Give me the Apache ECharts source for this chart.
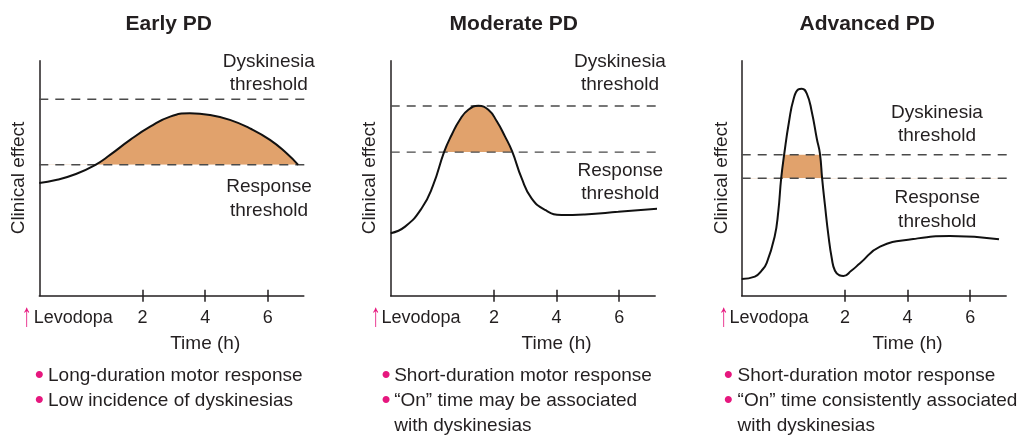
<!DOCTYPE html>
<html>
<head>
<meta charset="utf-8">
<script src="https://cdn.jsdelivr.net/npm/echarts@6/dist/echarts.min.js"></script>
<style>
  html, body { margin: 0; padding: 0; background: #ffffff; }
  #chart { width: 1023px; height: 436px; }
</style>
</head>
<body>
<div id="chart"></div>
<script>
// ---- data ----
const panelTitles = ['Early PD', 'Moderate PD', 'Advanced PD'];
const timeTicks = [2, 4, 6];

// clinical effect over time after a levodopa dose: [time (h), effect]
const earlyEffect = [
  [-1.3, 48.0], [-0.77, 49.2], [-0.13, 51.8], [0.48, 55.6], [0.96, 59.9],
  [1.6, 66.3], [2.24, 71.9], [2.88, 76.2], [3.51, 77.6], [4.15, 76.9],
  [4.79, 74.8], [5.43, 71.2], [6.07, 66.3], [6.6, 60.6], [6.97, 55.7]
];
const moderateEffect = [
  [-1.3, 26.6], [-0.84, 29.4], [-0.31, 37.2], [0.05, 46.8], [0.41, 61.3],
  [0.65, 68.5], [0.91, 74.9], [1.18, 79.1], [1.5, 80.8], [1.82, 79.1],
  [2.09, 74.2], [2.35, 67.8], [2.58, 61.4], [2.88, 50.1], [3.2, 41.4],
  [3.63, 36.5], [4.16, 34.3], [4.9, 34.6], [5.97, 35.7], [7.36, 37.2]
];
const advancedEffect = [
  [-1.3, 7.1], [-0.88, 8.1], [-0.67, 10.6], [-0.5, 14.0], [-0.25, 25.0],
  [-0.13, 36.0], [-0.04, 49.8], [0.06, 60.4], [0.21, 73.9], [0.36, 83.8],
  [0.51, 87.8], [0.62, 88.1], [0.78, 86.0], [0.94, 78.2], [1.1, 66.8],
  [1.2, 60.4], [1.27, 49.8], [1.36, 38.5], [1.47, 25.7], [1.58, 15.7],
  [1.68, 10.6], [1.82, 8.7], [1.95, 8.4], [2.2, 10.6], [2.48, 13.8],
  [3.12, 20.9], [4.18, 24.1], [5.35, 25.4], [6.92, 24.0]
];
const responseThreshold = [55.7, 61.1, 50];
const dyskinesiaThreshold = [83.6, 80.7, 60];

const panelNotes = [
  ['Long-duration motor response', 'Low incidence of dyskinesias'],
  ['Short-duration motor response', '\u201COn\u201D time may be associated\nwith dyskinesias'],
  ['Short-duration motor response', '\u201COn\u201D time consistently associated\nwith dyskinesias']
];

// ---- layout & style ----
const effects = [earlyEffect, moderateEffect, advancedEffect];
const FONT = '"Liberation Sans", Arial, Helvetica, sans-serif';
const INK = '#231f20';
const PINK = '#e6177e';
const FILL = '#e1a26c';
const DASH = '#4a4a4a';

const gridTop = 60.7;
const gridHeight = 235;
const panelLeft = [39.3, 390.7, 741.7];
const panelWidth = 264.5;
const timeMin = -1.3;
const timeMax = 7.15;
const thresholdEnd = 7.35;
const effectMax = 100;
const pxPerHour = panelWidth / (timeMax - timeMin);

const titleX = [168.8, 513.8, 867.2];
const yNameX = [19.2, 370, 721.5];
const dyskLabelPos = [[268.8, 73.2], [620, 73.2], [937, 124.5]];
const respLabelPos = [[269, 198.6], [620.3, 182.3], [937.2, 209.7]];
const arrowX = [26.7, 375.7, 723.7];
const levodopaX = [33.7, 381.4, 729.4];
const bulletX = [39.3, 386, 728.3];
const noteX = [48, 394.2, 737.6];
const noteTop = 363;
const noteLine = 25;

const grids = [];
const xAxes = [];
const yAxes = [];
const series = [];
const graphics = [];

const axisLineStyle = { color: INK, width: 1.5 };

function text(x, y, str, style, extra) {
  return Object.assign({
    type: 'text', x: x, y: y, silent: true,
    style: Object.assign({
      text: str, fill: INK, fontFamily: FONT, fontSize: 19,
      align: 'center', verticalAlign: 'middle'
    }, style || {})
  }, extra || {});
}

for (let i = 0; i < 3; i++) {
  const resp = responseThreshold[i];
  const dysk = dyskinesiaThreshold[i];

  // main plotting grid
  grids.push({
    left: panelLeft[i], top: gridTop, width: panelWidth, height: gridHeight,
    containLabel: false, outerBoundsMode: 'none'
  });
  // time axis: outer tick half + labels
  xAxes.push({
    type: 'value', gridIndex: i, min: timeMin, max: timeMax, position: 'bottom',
    axisLine: { show: true, onZero: false, lineStyle: axisLineStyle },
    axisTick: { show: true, customValues: timeTicks, length: 6, lineStyle: axisLineStyle },
    axisLabel: {
      show: true, customValues: timeTicks, margin: 13,
      fontSize: 18, lineHeight: 18, color: INK, fontFamily: FONT
    },
    splitLine: { show: false }
  });
  // time axis: inner tick half so ticks cross the axis line
  xAxes.push({
    type: 'value', gridIndex: i, min: timeMin, max: timeMax, position: 'bottom',
    axisLine: { show: false, onZero: false },
    axisTick: { show: true, inside: true, customValues: timeTicks, length: 6, lineStyle: axisLineStyle },
    axisLabel: { show: false },
    splitLine: { show: false }
  });
  yAxes.push({
    type: 'value', gridIndex: i, min: 0, max: effectMax,
    axisLine: { show: true, onZero: false, lineStyle: axisLineStyle },
    axisTick: { show: false }, axisLabel: { show: false }, splitLine: { show: false }
  });

  // threshold lines
  [resp, dysk].forEach(function (thr) {
    series.push({
      type: 'line', xAxisIndex: 2 * i, yAxisIndex: i, silent: true, clip: false,
      symbol: 'none', animation: false,
      lineStyle: { color: DASH, width: 1.4, type: [9, 7] },
      data: [[timeMin, thr], [thresholdEnd, thr]],
      z: 2
    });
  });

  // clinical effect curve
  series.push({
    type: 'line', xAxisIndex: 2 * i, yAxisIndex: i, silent: true, clip: false,
    smooth: true, symbol: 'none', animation: false,
    lineStyle: { color: '#111', width: 2 },
    data: effects[i],
    z: 4
  });
}

// band grids spanning response..dyskinesia threshold: they clip the shaded area
for (let i = 0; i < 3; i++) {
  const resp = responseThreshold[i];
  const dysk = dyskinesiaThreshold[i];
  grids.push({
    left: panelLeft[i], width: panelWidth,
    top: gridTop + (effectMax - dysk) / effectMax * gridHeight,
    height: (dysk - resp) / effectMax * gridHeight,
    containLabel: false, outerBoundsMode: 'none'
  });
  xAxes.push({ type: 'value', gridIndex: 3 + i, min: timeMin, max: timeMax, show: false });
  yAxes.push({ type: 'value', gridIndex: 3 + i, min: resp, max: dysk, show: false });
  series.push({
    type: 'line', xAxisIndex: 6 + i, yAxisIndex: 3 + i, silent: true, clip: true,
    smooth: true, symbol: 'none', animation: false,
    lineStyle: { width: 0.01, opacity: 0 },
    areaStyle: { color: FILL, opacity: 1, origin: 'start' },
    data: effects[i],
    z: 1
  });
}

// texts
for (let i = 0; i < 3; i++) {
  graphics.push(text(titleX[i], 24, panelTitles[i], { fontSize: 21, fontWeight: 'bold' }));
  graphics.push(text(yNameX[i], 178, 'Clinical effect', {}, { rotation: Math.PI / 2 }));
  graphics.push(text(dyskLabelPos[i][0], dyskLabelPos[i][1], 'Dyskinesia\nthreshold', { lineHeight: 23.5 }));
  graphics.push(text(respLabelPos[i][0], respLabelPos[i][1], 'Response\nthreshold', { lineHeight: 23.5 }));
  graphics.push(text(panelLeft[i] + (4 - timeMin) * pxPerHour, 344.2, 'Time (h)'));
  graphics.push(text(arrowX[i], 316.5, '\u2191', { fill: PINK, fontSize: 22 }, { scaleX: 0.9, scaleY: 1.5 }));
  graphics.push(text(levodopaX[i], 318.5, 'Levodopa', { fontSize: 18, align: 'left' }));

  let line = 0;
  panelNotes[i].forEach(function (note) {
    const y = noteTop + line * noteLine;
    graphics.push(text(bulletX[i], y + noteLine / 2, '\u2022', { fill: PINK, fontSize: 26 }));
    graphics.push(text(noteX[i], y, note, { align: 'left', verticalAlign: 'top', lineHeight: noteLine }));
    line += note.split('\n').length;
  });
}

const chart = echarts.init(document.getElementById('chart'), null, { renderer: 'canvas' });
chart.setOption({
  backgroundColor: '#ffffff',
  animation: false,
  grid: grids,
  xAxis: xAxes,
  yAxis: yAxes,
  series: series,
  graphic: { elements: graphics }
});
</script>
</body>
</html>
